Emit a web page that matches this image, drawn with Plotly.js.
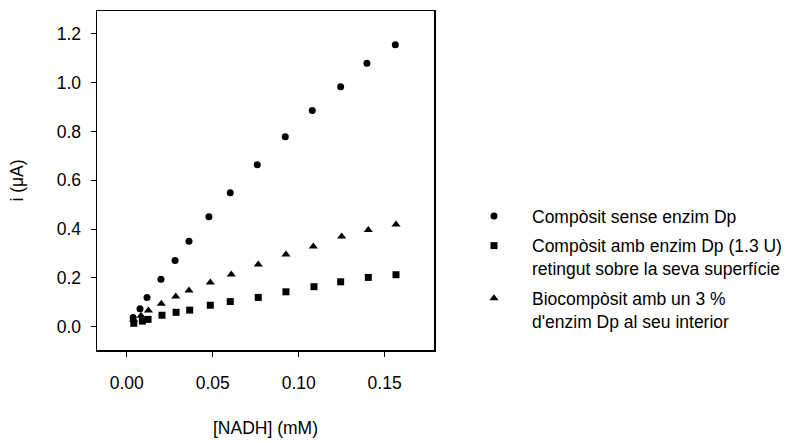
<!DOCTYPE html>
<html>
<head>
<meta charset="utf-8">
<script src="https://cdn.plot.ly/plotly-3.0.1.min.js"></script>
<style>html,body{margin:0;padding:0;background:#fff;}#chart{width:786px;height:443px;}</style>
</head>
<body>
<div id="chart"></div>
<script>
// NADH concentration (mM)
const nadhCircle = [0.0037, 0.0077, 0.0118, 0.0199, 0.0281, 0.0362, 0.0478, 0.0602, 0.0759, 0.0922, 0.1079, 0.1244, 0.1397, 0.1562];
const currentCircle = [0.038, 0.074, 0.120, 0.194, 0.271, 0.350, 0.451, 0.549, 0.664, 0.779, 0.886, 0.984, 1.080, 1.156];

const nadhSquare = [0.0041, 0.0091, 0.0124, 0.0205, 0.0287, 0.0366, 0.0486, 0.0602, 0.0765, 0.0926, 0.1089, 0.1244, 0.1405, 0.1566];
const currentSquare = [0.014, 0.023, 0.030, 0.047, 0.059, 0.068, 0.088, 0.103, 0.120, 0.143, 0.164, 0.184, 0.202, 0.213];

const nadhTriangle = [0.0040, 0.0083, 0.0126, 0.0201, 0.0285, 0.0362, 0.0486, 0.0608, 0.0765, 0.0926, 0.1085, 0.1250, 0.1405, 0.1566];
const currentTriangle = [0.028, 0.045, 0.066, 0.094, 0.124, 0.148, 0.181, 0.214, 0.255, 0.296, 0.329, 0.370, 0.396, 0.419];

const seriesNames = [
  "Compòsit sense enzim Dp",
  "Compòsit amb enzim Dp (1.3 U)<br>retingut sobre la seva superfície",
  "Biocompòsit amb un 3 %<br>d'enzim Dp al seu interior"
];
const yTicks = [0.0, 0.2, 0.4, 0.6, 0.8, 1.0, 1.2];
const xTicks = [0.00, 0.05, 0.10, 0.15];

const FONT = '"Liberation Sans", Arial, sans-serif';
const FS = 17.5;

const traces = [
  {x: nadhCircle, y: currentCircle, name: seriesNames[0], legendgroup: 'a', mode: 'markers', type: 'scatter',
   marker: {symbol: 'circle', size: 7, color: '#000'}},
  {x: nadhSquare, y: currentSquare, name: seriesNames[1], legendgroup: 'b', mode: 'markers', type: 'scatter',
   marker: {symbol: 'square', size: 7, color: '#000'}},
  {x: nadhTriangle, y: currentTriangle, name: seriesNames[2], legendgroup: 'c', mode: 'markers', type: 'scatter',
   marker: {symbol: 'triangle-up', size: 8, color: '#000'}}
];

const layout = {
  width: 786, height: 443,
  margin: {l: 97, r: 352, t: 11, b: 93, pad: 0, autoexpand: false},
  paper_bgcolor: '#fff', plot_bgcolor: '#fff',
  font: {family: FONT, size: FS, color: '#000'},
  showlegend: true,
  legend: {xref: 'container', yref: 'container', x: 456 / 786, y: 1 - 198 / 443,
           xanchor: 'left', yanchor: 'top', itemwidth: 66, valign: 'top',
           traceorder: 'grouped', tracegroupgap: 4,
           font: {family: FONT, size: FS, color: '#000'}, bgcolor: 'rgba(0,0,0,0)'},
  xaxis: {
    range: [-0.0173, 0.1787], tickvals: xTicks, ticktext: xTicks.map(v => v.toFixed(2)),
    ticks: 'outside', ticklen: 5, tickwidth: 1, tickcolor: '#000',
    tickfont: {family: FONT, size: FS}, ticklabelstandoff: 11,
    showline: true, mirror: true, linecolor: '#000', linewidth: 1.5,
    showgrid: false, zeroline: false,
    title: {text: '[NADH] (mM)', standoff: 30, font: {family: FONT, size: FS}}
  },
  yaxis: {
    range: [-0.0955, 1.294], tickvals: yTicks, ticktext: yTicks.map(v => v.toFixed(1)),
    ticks: 'outside', ticklen: 5, tickwidth: 1, tickcolor: '#000',
    tickfont: {family: FONT, size: FS}, ticklabelstandoff: 6,
    showline: true, mirror: true, linecolor: '#000', linewidth: 1.5,
    showgrid: false, zeroline: false,
    title: {text: 'i (μA)', standoff: 28, font: {family: FONT, size: FS}}
  }
};

Plotly.newPlot('chart', traces, layout, {displayModeBar: false, staticPlot: true});
</script>
</body>
</html>
